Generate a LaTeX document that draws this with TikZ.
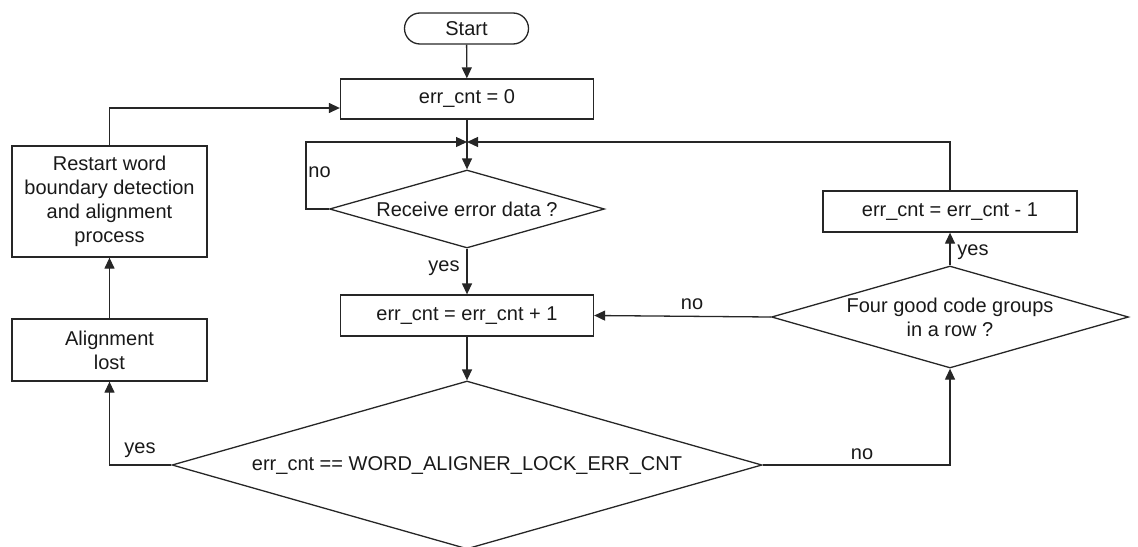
\documentclass[tikz,border=0pt]{standalone}
\usepackage{fontspec}
\setmainfont{Liberation Sans}
\usetikzlibrary{shapes.geometric,shapes.misc,arrows.meta,calc}
\colorlet{ln}{black!85}
\colorlet{tx}{black!90}
\begin{document}
\begin{tikzpicture}[x=0.5pt,y=-0.5pt,
  font=\fontsize{10}{12}\selectfont,
  box/.style={draw=ln, line width=0.65pt, rectangle, inner sep=0pt, align=center, text=tx},
  dia/.style={draw=ln, line width=0.65pt, diamond, aspect=3.5, inner sep=0pt, align=center, text=tx},
  term/.style={draw=ln, line width=0.65pt, rounded rectangle, inner sep=0pt, text=tx},
  flow/.style={draw=ln, line width=0.65pt, -{Triangle[length=5.5pt,width=5pt]}},
  lbl/.style={inner sep=1pt, text=tx}]
\useasboundingbox (0,0) rectangle (1138,546);

\node[term, minimum width=62pt, minimum height=15.5pt] (start) at (466.5,28.5) {Start};
\node[box, minimum width=126.5pt, minimum height=20pt] (init) at (467,99) {err\_cnt = 0};
\coordinate (j) at (467,142);
\node[dia, minimum width=137.5pt, minimum height=39pt] (recv) at (467,209) {Receive error data ?};
\node[box, minimum width=126.5pt, minimum height=20.5pt] (inc) at (467,315.5) {err\_cnt = err\_cnt + 1};
\node[dia, minimum width=295pt, minimum height=84pt] (chk) at (467,465) {err\_cnt == WORD\_ALIGNER\_LOCK\_ERR\_CNT};
\node[box, minimum width=97.5pt, minimum height=31pt] (lost) at (109.5,350) {Alignment\\lost};
\node[box, minimum width=97.5pt, minimum height=55.5pt] (restart) at (109.5,201.5) {Restart word\\boundary detection\\and alignment\\process};
\node[dia, minimum width=178.5pt, minimum height=51pt] (four) at (950,317) {Four good code groups\\in a row ?};
\node[box, minimum width=127pt, minimum height=20.5pt] (dec) at (950,211.5) {err\_cnt = err\_cnt - 1};

\coordinate (nl) at (306,142);
\coordinate (ie) at ($(init.west)+(0,9)$);

\draw[flow] (start) -- (init);
\draw[flow] (init) -- (recv);
\draw[flow] (recv.west) -| (nl) -- (j);
\node[lbl, anchor=west] (lno1) at (306,172) {no};
\draw[flow] (recv) -- (inc);
\node[lbl, anchor=east] (lyes1) at (462,268) {yes};
\draw[flow] (inc) -- (chk);
\draw[flow] (chk.west) -| (lost.south);
\node[lbl] (lyes2) at (140,450) {yes};
\draw[flow] (lost) -- (restart);
\draw[flow] (restart.north) |- (ie);
\draw[flow] (chk.east) -| (four.south);
\node[lbl] (lno2) at (862,454) {no};
\draw[flow] (four) -- (dec);
\node[lbl, anchor=west] (lyes3) at (955,252) {yes};
\draw[flow] (four.west) -- (inc.east);
\node[lbl] (lno3) at (692,304) {no};
\draw[flow] (dec.north) |- (j);
\end{tikzpicture}
\end{document}
